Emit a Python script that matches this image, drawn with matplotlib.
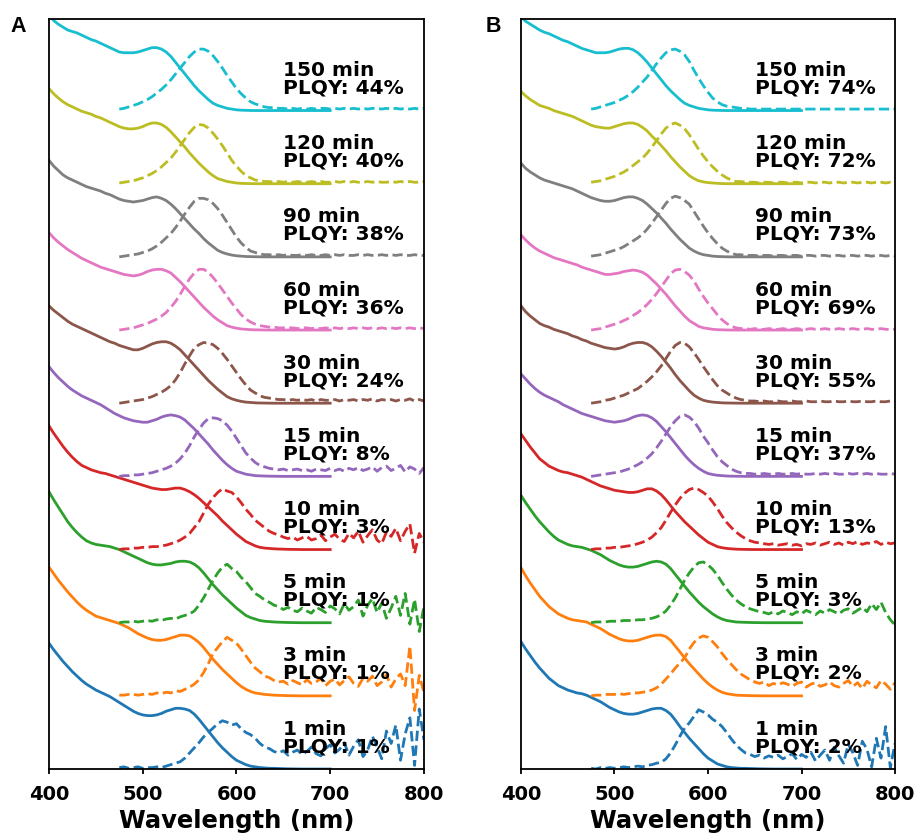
import numpy as np
import matplotlib.pyplot as plt

# wavelength grids (nm)
abs_wl = np.arange(400, 701, 5)
pl_wl = np.arange(475, 801, 5)

times = ['1 min', '3 min', '5 min', '10 min', '15 min',
         '30 min', '60 min', '90 min', '120 min', '150 min']
plqy_a = [1, 1, 1, 3, 8, 24, 36, 38, 40, 44]
plqy_b = [2, 2, 3, 13, 37, 55, 69, 73, 72, 74]

colors = ['#1f77b4', '#ff7f0e', '#2ca02c', '#d62728', '#9467bd',
          '#8c564b', '#e377c2', '#7f7f7f', '#bcbd22', '#17becf']

# ---- panel A: absorption (normalised, 400-700 nm every 5 nm) ----
abs_a1 = [1.72, 1.63, 1.55, 1.47, 1.40, 1.33, 1.27, 1.21, 1.16, 1.12,
          1.08, 1.05, 1.02, 0.99, 0.95, 0.91, 0.87, 0.83, 0.79, 0.76,
          0.74, 0.73, 0.73, 0.74, 0.76, 0.79, 0.81, 0.83, 0.83, 0.82,
          0.80, 0.75, 0.68, 0.60, 0.52, 0.44, 0.36, 0.29, 0.23, 0.17,
          0.12, 0.09, 0.06, 0.04, 0.03, 0.02, 0.015, 0.01, 0.01, 0.007,
          0.005, 0.003, 0.002, 0.001, 0, 0, 0, 0, 0, 0,
          0]
abs_a3 = [1.76, 1.67, 1.58, 1.50, 1.42, 1.35, 1.28, 1.22, 1.17, 1.13,
          1.09, 1.07, 1.05, 1.03, 1.01, 0.99, 0.96, 0.93, 0.89, 0.85,
          0.82, 0.79, 0.77, 0.76, 0.76, 0.77, 0.79, 0.81, 0.83, 0.83,
          0.82, 0.78, 0.73, 0.66, 0.58, 0.50, 0.43, 0.36, 0.30, 0.24,
          0.18, 0.13, 0.09, 0.06, 0.04, 0.03, 0.02, 0.015, 0.01, 0.007,
          0.005, 0.003, 0.002, 0.001, 0, 0, 0, 0, 0, 0,
          0]
abs_a5 = [1.79, 1.68, 1.58, 1.48, 1.38, 1.30, 1.23, 1.17, 1.12, 1.09,
          1.07, 1.06, 1.05, 1.04, 1.02, 1.00, 0.97, 0.94, 0.91, 0.88,
          0.85, 0.82, 0.80, 0.79, 0.79, 0.80, 0.81, 0.83, 0.84, 0.84,
          0.83, 0.80, 0.75, 0.68, 0.60, 0.52, 0.45, 0.38, 0.32, 0.26,
          0.20, 0.15, 0.10, 0.07, 0.05, 0.03, 0.02, 0.015, 0.01, 0.007,
          0.005, 0.003, 0.002, 0.001, 0, 0, 0, 0, 0, 0,
          0]
abs_a10 = [1.69, 1.59, 1.50, 1.41, 1.33, 1.26, 1.20, 1.15, 1.12, 1.09,
           1.07, 1.05, 1.04, 1.02, 1.00, 0.98, 0.96, 0.94, 0.92, 0.90,
           0.88, 0.86, 0.84, 0.83, 0.82, 0.82, 0.83, 0.84, 0.84, 0.82,
           0.79, 0.75, 0.70, 0.64, 0.58, 0.52, 0.46, 0.39, 0.33, 0.27,
           0.21, 0.16, 0.11, 0.08, 0.05, 0.03, 0.02, 0.015, 0.01, 0.007,
           0.005, 0.003, 0.002, 0.001, 0, 0, 0, 0, 0, 0,
           0]
abs_a15 = [1.50, 1.42, 1.35, 1.29, 1.23, 1.18, 1.14, 1.10, 1.07, 1.04,
           1.01, 0.98, 0.94, 0.90, 0.86, 0.83, 0.80, 0.78, 0.76, 0.75,
           0.74, 0.74, 0.76, 0.78, 0.81, 0.83, 0.84, 0.83, 0.81, 0.77,
           0.71, 0.65, 0.58, 0.51, 0.44, 0.36, 0.29, 0.22, 0.16, 0.11,
           0.07, 0.05, 0.03, 0.02, 0.01, 0.007, 0.005, 0.003, 0.002, 0.001,
           0, 0, 0, 0, 0, 0, 0, 0, 0, 0,
           0]
abs_a30 = [1.33, 1.27, 1.22, 1.17, 1.12, 1.08, 1.05, 1.02, 0.99, 0.96,
           0.93, 0.90, 0.87, 0.84, 0.82, 0.79, 0.77, 0.75, 0.73, 0.73,
           0.75, 0.78, 0.81, 0.83, 0.84, 0.84, 0.82, 0.78, 0.73, 0.66,
           0.59, 0.52, 0.45, 0.38, 0.31, 0.25, 0.19, 0.14, 0.09, 0.06,
           0.04, 0.025, 0.015, 0.01, 0.005, 0.003, 0.002, 0.001, 0, 0,
           0, 0, 0, 0, 0, 0, 0, 0, 0, 0,
           0]
abs_a60 = [1.33, 1.26, 1.20, 1.15, 1.10, 1.06, 1.02, 0.98, 0.95, 0.92,
           0.89, 0.86, 0.84, 0.82, 0.80, 0.78, 0.76, 0.75, 0.74, 0.75,
           0.77, 0.80, 0.82, 0.83, 0.83, 0.81, 0.78, 0.72, 0.66, 0.59,
           0.52, 0.45, 0.38, 0.31, 0.25, 0.19, 0.14, 0.10, 0.06, 0.04,
           0.025, 0.015, 0.01, 0.005, 0.003, 0.002, 0.001, 0, 0, 0,
           0, 0, 0, 0, 0, 0, 0, 0, 0, 0,
           0]
abs_a90 = [1.32, 1.24, 1.18, 1.12, 1.08, 1.05, 1.02, 0.99, 0.96, 0.94,
           0.92, 0.90, 0.87, 0.85, 0.82, 0.79, 0.77, 0.76, 0.75, 0.76,
           0.77, 0.79, 0.81, 0.82, 0.80, 0.77, 0.72, 0.66, 0.59, 0.52,
           0.45, 0.38, 0.32, 0.25, 0.19, 0.14, 0.09, 0.06, 0.04, 0.025,
           0.015, 0.01, 0.005, 0.003, 0.002, 0.001, 0, 0, 0, 0,
           0, 0, 0, 0, 0, 0, 0, 0, 0, 0,
           0]
abs_a120 = [1.30, 1.23, 1.17, 1.12, 1.08, 1.05, 1.02, 0.99, 0.97, 0.95,
            0.92, 0.90, 0.87, 0.84, 0.81, 0.78, 0.76, 0.75, 0.75, 0.76,
            0.78, 0.81, 0.83, 0.83, 0.81, 0.77, 0.71, 0.64, 0.57, 0.50,
            0.42, 0.35, 0.28, 0.22, 0.16, 0.11, 0.07, 0.05, 0.03, 0.02,
            0.01, 0.005, 0.003, 0.001, 0, 0, 0, 0, 0, 0,
            0, 0, 0, 0, 0, 0, 0, 0, 0, 0,
            0]
abs_a150 = [1.30, 1.23, 1.18, 1.14, 1.10, 1.08, 1.06, 1.03, 1.00, 0.97,
            0.95, 0.92, 0.89, 0.86, 0.83, 0.80, 0.79, 0.79, 0.79, 0.80,
            0.82, 0.84, 0.86, 0.86, 0.84, 0.80, 0.74, 0.66, 0.58, 0.50,
            0.42, 0.34, 0.27, 0.21, 0.15, 0.10, 0.07, 0.05, 0.03, 0.02,
            0.01, 0.005, 0.003, 0.001, 0, 0, 0, 0, 0, 0,
            0, 0, 0, 0, 0, 0, 0, 0, 0, 0,
            0]

# ---- panel A: PL (normalised, 475-800 nm every 5 nm) ----
pl_a1 = [0.02, 0.03, 0.01, 0.02, 0.03, 0.01, 0.02, 0.02, 0.03, 0.02,
         0.04, 0.06, 0.08, 0.10, 0.15, 0.22, 0.29, 0.36, 0.44, 0.50,
         0.56, 0.62, 0.66, 0.64, 0.60, 0.62, 0.55, 0.50, 0.47, 0.42,
         0.35, 0.30, 0.28, 0.24, 0.22, 0.25, 0.19, 0.23, 0.26, 0.20,
         0.24, 0.30, 0.21, 0.18, 0.28, 0.33, 0.22, 0.27, 0.36, 0.19,
         0.31, 0.40, 0.17, 0.26, 0.45, 0.30, 0.14, 0.52, 0.35, 0.60,
         0.12, 0.48, 0.70, 0.05, 0.82, 0.40]
pl_a3 = [0.01, 0.01, 0.02, 0.02, 0.01, 0.02, 0.03, 0.02, 0.04, 0.03,
         0.05, 0.04, 0.07, 0.06, 0.09, 0.12, 0.16, 0.22, 0.32, 0.44,
         0.58, 0.66, 0.74, 0.80, 0.76, 0.72, 0.64, 0.55, 0.46, 0.38,
         0.33, 0.27, 0.25, 0.21, 0.19, 0.20, 0.16, 0.21, 0.18, 0.15,
         0.22, 0.17, 0.19, 0.24, 0.14, 0.20, 0.23, 0.15, 0.21, 0.26,
         0.17, 0.13, 0.24, 0.20, 0.27, 0.14, 0.19, 0.29, 0.12, 0.23,
         0.30, 0.14, 0.68, -0.20, 0.28, 0.05]
pl_a5 = [0.00, 0.01, 0.01, 0.02, 0.01, 0.02, 0.03, 0.02, 0.04, 0.03,
         0.05, 0.06, 0.05, 0.08, 0.10, 0.12, 0.16, 0.24, 0.34, 0.46,
         0.58, 0.68, 0.76, 0.80, 0.74, 0.70, 0.62, 0.56, 0.48, 0.40,
         0.36, 0.31, 0.28, 0.24, 0.22, 0.18, 0.21, 0.17, 0.15, 0.20,
         0.16, 0.13, 0.21, 0.18, 0.14, 0.23, 0.19, 0.12, 0.26, 0.17,
         0.22, 0.31, 0.09, 0.24, 0.33, 0.14, 0.27, 0.06, 0.20, 0.36,
         0.10, 0.40, -0.02, 0.32, -0.12, 0.22]
pl_a10 = [0.00, 0.01, 0.01, 0.02, 0.02, 0.03, 0.03, 0.04, 0.04, 0.05,
          0.06, 0.08, 0.10, 0.13, 0.17, 0.22, 0.30, 0.38, 0.50, 0.62,
          0.71, 0.78, 0.83, 0.80, 0.78, 0.72, 0.64, 0.55, 0.48, 0.40,
          0.35, 0.30, 0.25, 0.22, 0.20, 0.17, 0.15, 0.17, 0.13, 0.16,
          0.18, 0.13, 0.15, 0.20, 0.12, 0.17, 0.21, 0.14, 0.11, 0.22,
          0.16, 0.25, 0.10, 0.19, 0.27, 0.13, 0.08, 0.24, 0.18, 0.29,
          0.12, 0.25, 0.35, -0.05, 0.22, 0.10]
pl_a15 = [0.00, 0.01, 0.01, 0.02, 0.02, 0.03, 0.04, 0.05, 0.07, 0.09,
          0.11, 0.14, 0.18, 0.24, 0.32, 0.42, 0.54, 0.64, 0.73, 0.79,
          0.80, 0.79, 0.76, 0.70, 0.62, 0.52, 0.42, 0.32, 0.25, 0.19,
          0.15, 0.13, 0.11, 0.10, 0.09, 0.10, 0.08, 0.09, 0.10, 0.08,
          0.09, 0.07, 0.10, 0.09, 0.08, 0.11, 0.08, 0.10, 0.07, 0.11,
          0.09, 0.12, 0.08, 0.10, 0.13, 0.07, 0.12, 0.14, 0.08, 0.11,
          0.15, 0.06, 0.13, 0.10, 0.04, 0.12]
pl_a30 = [0.00, 0.01, 0.02, 0.03, 0.04, 0.05, 0.07, 0.09, 0.12, 0.15,
          0.19, 0.24, 0.32, 0.42, 0.54, 0.65, 0.75, 0.80, 0.83, 0.82,
          0.80, 0.75, 0.68, 0.60, 0.51, 0.42, 0.33, 0.25, 0.18, 0.14,
          0.10, 0.08, 0.07, 0.06, 0.05, 0.05, 0.04, 0.05, 0.04, 0.05,
          0.04, 0.05, 0.03, 0.05, 0.04, 0.04, 0.05, 0.03, 0.05, 0.04,
          0.05, 0.03, 0.05, 0.04, 0.06, 0.03, 0.05, 0.04, 0.05, 0.03,
          0.05, 0.04, 0.06, 0.03, 0.05, 0.03]
pl_a60 = [0.00, 0.01, 0.02, 0.03, 0.05, 0.07, 0.09, 0.12, 0.15, 0.19,
          0.24, 0.31, 0.39, 0.49, 0.60, 0.70, 0.78, 0.83, 0.83, 0.79,
          0.72, 0.64, 0.55, 0.46, 0.37, 0.29, 0.21, 0.15, 0.11, 0.08,
          0.06, 0.05, 0.04, 0.04, 0.03, 0.03, 0.03, 0.03, 0.02, 0.03,
          0.03, 0.02, 0.03, 0.02, 0.03, 0.02, 0.03, 0.02, 0.03, 0.02,
          0.03, 0.02, 0.03, 0.02, 0.03, 0.02, 0.03, 0.02, 0.03, 0.02,
          0.03, 0.02, 0.03, 0.02, 0.03, 0.02]
pl_a90 = [0.00, 0.01, 0.02, 0.03, 0.04, 0.06, 0.08, 0.11, 0.15, 0.20,
          0.26, 0.32, 0.40, 0.49, 0.59, 0.68, 0.76, 0.80, 0.80, 0.78,
          0.73, 0.66, 0.57, 0.47, 0.37, 0.27, 0.19, 0.13, 0.08, 0.06,
          0.04, 0.03, 0.03, 0.02, 0.03, 0.02, 0.03, 0.02, 0.02, 0.03,
          0.02, 0.03, 0.02, 0.02, 0.03, 0.02, 0.03, 0.02, 0.03, 0.02,
          0.02, 0.03, 0.02, 0.03, 0.02, 0.02, 0.03, 0.02, 0.03, 0.02,
          0.03, 0.02, 0.02, 0.03, 0.02, 0.02]
pl_a120 = [0.01, 0.02, 0.03, 0.04, 0.06, 0.08, 0.11, 0.14, 0.18, 0.23,
           0.29, 0.35, 0.43, 0.52, 0.61, 0.70, 0.77, 0.81, 0.80, 0.76,
           0.69, 0.61, 0.52, 0.42, 0.32, 0.24, 0.17, 0.11, 0.08, 0.05,
           0.04, 0.03, 0.03, 0.02, 0.03, 0.02, 0.03, 0.02, 0.03, 0.02,
           0.02, 0.03, 0.02, 0.03, 0.02, 0.02, 0.03, 0.02, 0.03, 0.02,
           0.03, 0.02, 0.02, 0.03, 0.02, 0.03, 0.02, 0.02, 0.03, 0.02,
           0.03, 0.02, 0.03, 0.02, 0.02, 0.03]
pl_a150 = [0.02, 0.03, 0.05, 0.07, 0.09, 0.12, 0.15, 0.19, 0.24, 0.29,
           0.35, 0.42, 0.50, 0.58, 0.66, 0.74, 0.80, 0.84, 0.84, 0.81,
           0.75, 0.67, 0.58, 0.48, 0.39, 0.30, 0.23, 0.17, 0.12, 0.09,
           0.07, 0.05, 0.04, 0.04, 0.03, 0.03, 0.02, 0.03, 0.02, 0.03,
           0.02, 0.03, 0.02, 0.03, 0.03, 0.02, 0.03, 0.02, 0.03, 0.02,
           0.03, 0.02, 0.03, 0.02, 0.03, 0.03, 0.02, 0.03, 0.02, 0.03,
           0.02, 0.03, 0.02, 0.03, 0.02, 0.03]

# ---- panel B: absorption ----
abs_b1 = [1.74, 1.64, 1.55, 1.46, 1.38, 1.31, 1.24, 1.19, 1.14, 1.11,
          1.08, 1.06, 1.04, 1.03, 1.01, 0.98, 0.95, 0.92, 0.88, 0.84,
          0.81, 0.78, 0.76, 0.75, 0.75, 0.76, 0.78, 0.80, 0.82, 0.83,
          0.83, 0.80, 0.75, 0.67, 0.58, 0.50, 0.42, 0.35, 0.28, 0.21,
          0.15, 0.11, 0.07, 0.05, 0.03, 0.02, 0.015, 0.01, 0.01, 0.007,
          0.005, 0.003, 0.002, 0.001, 0, 0, 0, 0, 0, 0,
          0]
abs_b3 = [1.75, 1.64, 1.54, 1.45, 1.36, 1.29, 1.22, 1.17, 1.12, 1.09,
          1.06, 1.04, 1.03, 1.02, 1.01, 0.98, 0.95, 0.92, 0.88, 0.84,
          0.81, 0.78, 0.76, 0.75, 0.75, 0.76, 0.78, 0.80, 0.82, 0.83,
          0.83, 0.81, 0.76, 0.68, 0.60, 0.52, 0.44, 0.37, 0.30, 0.23,
          0.17, 0.12, 0.08, 0.05, 0.03, 0.02, 0.01, 0.007, 0.005, 0.003,
          0.002, 0.001, 0, 0, 0, 0, 0, 0, 0, 0,
          0]
abs_b5 = [1.74, 1.64, 1.55, 1.46, 1.38, 1.31, 1.24, 1.18, 1.13, 1.10,
          1.07, 1.05, 1.04, 1.03, 1.01, 0.99, 0.96, 0.93, 0.89, 0.85,
          0.82, 0.79, 0.77, 0.76, 0.76, 0.77, 0.79, 0.81, 0.83, 0.84,
          0.83, 0.80, 0.74, 0.66, 0.58, 0.50, 0.42, 0.35, 0.28, 0.22,
          0.17, 0.12, 0.08, 0.05, 0.03, 0.02, 0.01, 0.007, 0.005, 0.003,
          0.002, 0.001, 0, 0, 0, 0, 0, 0, 0, 0,
          0]
abs_b10 = [1.58, 1.49, 1.40, 1.32, 1.24, 1.19, 1.14, 1.11, 1.08, 1.06,
           1.05, 1.03, 1.01, 0.99, 0.96, 0.93, 0.90, 0.87, 0.85, 0.83,
           0.81, 0.80, 0.79, 0.78, 0.78, 0.79, 0.81, 0.83, 0.83, 0.80,
           0.75, 0.68, 0.60, 0.52, 0.45, 0.38, 0.32, 0.26, 0.20, 0.15,
           0.10, 0.07, 0.04, 0.025, 0.015, 0.01, 0.005, 0.003, 0.002, 0.001,
           0, 0, 0, 0, 0, 0, 0, 0, 0, 0,
           0]
abs_b15 = [1.40, 1.33, 1.26, 1.20, 1.15, 1.11, 1.08, 1.05, 1.02, 0.98,
           0.95, 0.92, 0.89, 0.86, 0.84, 0.82, 0.80, 0.78, 0.76, 0.75,
           0.74, 0.75, 0.76, 0.78, 0.81, 0.83, 0.84, 0.83, 0.80, 0.75,
           0.68, 0.61, 0.53, 0.45, 0.37, 0.29, 0.22, 0.16, 0.11, 0.07,
           0.04, 0.025, 0.015, 0.01, 0.005, 0.003, 0.002, 0.001, 0, 0,
           0, 0, 0, 0, 0, 0, 0, 0, 0, 0,
           0]
abs_b30 = [1.33, 1.25, 1.19, 1.14, 1.09, 1.06, 1.04, 1.01, 0.99, 0.97,
           0.95, 0.92, 0.90, 0.87, 0.85, 0.82, 0.80, 0.78, 0.76, 0.75,
           0.74, 0.75, 0.77, 0.80, 0.82, 0.83, 0.83, 0.81, 0.77, 0.71,
           0.64, 0.56, 0.48, 0.39, 0.31, 0.24, 0.17, 0.11, 0.07, 0.04,
           0.025, 0.015, 0.01, 0.005, 0.003, 0.002, 0.001, 0, 0, 0,
           0, 0, 0, 0, 0, 0, 0, 0, 0, 0,
           0]
abs_b60 = [1.30, 1.23, 1.17, 1.12, 1.08, 1.05, 1.02, 0.99, 0.97, 0.95,
           0.93, 0.91, 0.89, 0.86, 0.84, 0.82, 0.80, 0.78, 0.76, 0.76,
           0.77, 0.78, 0.80, 0.81, 0.82, 0.81, 0.79, 0.75, 0.69, 0.63,
           0.56, 0.49, 0.41, 0.33, 0.26, 0.19, 0.13, 0.09, 0.05, 0.03,
           0.02, 0.01, 0.005, 0.003, 0.001, 0, 0, 0, 0, 0,
           0, 0, 0, 0, 0, 0, 0, 0, 0, 0,
           0]
abs_b90 = [1.28, 1.21, 1.16, 1.12, 1.08, 1.05, 1.03, 1.01, 0.99, 0.97,
           0.95, 0.93, 0.90, 0.87, 0.84, 0.81, 0.79, 0.77, 0.76, 0.76,
           0.77, 0.79, 0.81, 0.82, 0.82, 0.80, 0.77, 0.72, 0.66, 0.60,
           0.53, 0.46, 0.38, 0.31, 0.24, 0.18, 0.12, 0.08, 0.05, 0.03,
           0.02, 0.01, 0.005, 0.003, 0.001, 0, 0, 0, 0, 0,
           0, 0, 0, 0, 0, 0, 0, 0, 0, 0,
           0]
abs_b120 = [1.26, 1.20, 1.15, 1.11, 1.07, 1.05, 1.03, 1.00, 0.98, 0.96,
            0.94, 0.92, 0.89, 0.86, 0.83, 0.80, 0.78, 0.77, 0.76, 0.76,
            0.78, 0.80, 0.82, 0.83, 0.83, 0.81, 0.77, 0.72, 0.65, 0.59,
            0.52, 0.45, 0.37, 0.30, 0.23, 0.17, 0.11, 0.07, 0.04, 0.025,
            0.015, 0.01, 0.005, 0.002, 0, 0, 0, 0, 0, 0,
            0, 0, 0, 0, 0, 0, 0, 0, 0, 0,
            0]
abs_b150 = [1.28, 1.22, 1.18, 1.14, 1.10, 1.07, 1.05, 1.02, 0.99, 0.96,
            0.94, 0.91, 0.88, 0.85, 0.83, 0.81, 0.79, 0.79, 0.79, 0.80,
            0.82, 0.84, 0.85, 0.85, 0.83, 0.79, 0.73, 0.66, 0.58, 0.50,
            0.42, 0.34, 0.27, 0.21, 0.15, 0.10, 0.07, 0.05, 0.03, 0.02,
            0.01, 0.005, 0.003, 0.001, 0, 0, 0, 0, 0, 0,
            0, 0, 0, 0, 0, 0, 0, 0, 0, 0,
            0]

# ---- panel B: PL ----
pl_b1 = [0.01, 0.00, 0.02, 0.01, 0.02, 0.01, 0.02, 0.03, 0.02, 0.03,
         0.04, 0.03, 0.05, 0.06, 0.08, 0.09, 0.14, 0.22, 0.33, 0.45,
         0.56, 0.63, 0.72, 0.81, 0.78, 0.74, 0.68, 0.64, 0.58, 0.50,
         0.41, 0.33, 0.27, 0.22, 0.20, 0.17, 0.19, 0.15, 0.18, 0.16,
         0.19, 0.14, 0.17, 0.21, 0.13, 0.20, 0.16, 0.23, 0.11, 0.19,
         0.26, 0.12, 0.30, 0.18, 0.08, 0.34, 0.22, 0.05, 0.38, 0.27,
         0.03, 0.42, 0.15, 0.58, 0.02, 0.35]
pl_b3 = [0.00, 0.01, 0.01, 0.02, 0.02, 0.02, 0.03, 0.02, 0.03, 0.04,
         0.04, 0.05, 0.06, 0.08, 0.11, 0.16, 0.23, 0.30, 0.38, 0.45,
         0.52, 0.64, 0.73, 0.79, 0.82, 0.80, 0.74, 0.67, 0.58, 0.50,
         0.43, 0.36, 0.30, 0.26, 0.22, 0.19, 0.17, 0.19, 0.14, 0.17,
         0.15, 0.18, 0.16, 0.13, 0.17, 0.19, 0.12, 0.16, 0.18, 0.13,
         0.15, 0.19, 0.14, 0.12, 0.17, 0.21, 0.13, 0.18, 0.10, 0.20,
         0.15, 0.11, 0.21, 0.16, 0.09, 0.18]
pl_b5 = [0.00, 0.01, 0.01, 0.01, 0.02, 0.02, 0.02, 0.03, 0.03, 0.03,
         0.04, 0.04, 0.05, 0.06, 0.08, 0.11, 0.16, 0.24, 0.34, 0.46,
         0.58, 0.68, 0.76, 0.82, 0.83, 0.79, 0.73, 0.65, 0.55, 0.46,
         0.38, 0.31, 0.26, 0.22, 0.19, 0.17, 0.15, 0.14, 0.12, 0.15,
         0.12, 0.16, 0.14, 0.11, 0.15, 0.12, 0.17, 0.14, 0.11, 0.16,
         0.13, 0.18, 0.15, 0.12, 0.17, 0.19, 0.13, 0.17, 0.21, 0.15,
         0.26, 0.18, 0.28, 0.14, 0.04, -0.03]
pl_b10 = [0.00, 0.01, 0.01, 0.02, 0.02, 0.03, 0.03, 0.04, 0.05, 0.06,
          0.08, 0.10, 0.13, 0.17, 0.23, 0.30, 0.40, 0.51, 0.61, 0.70,
          0.77, 0.82, 0.84, 0.82, 0.78, 0.73, 0.65, 0.56, 0.46, 0.37,
          0.30, 0.24, 0.19, 0.15, 0.12, 0.10, 0.09, 0.08, 0.07, 0.08,
          0.06, 0.07, 0.08, 0.06, 0.07, 0.05, 0.08, 0.07, 0.09, 0.06,
          0.08, 0.10, 0.07, 0.09, 0.06, 0.10, 0.08, 0.11, 0.07, 0.09,
          0.08, 0.11, 0.07, 0.10, 0.08, 0.09]
pl_b15 = [0.00, 0.01, 0.02, 0.03, 0.04, 0.05, 0.06, 0.08, 0.10, 0.13,
          0.16, 0.20, 0.25, 0.31, 0.39, 0.48, 0.58, 0.68, 0.76, 0.82,
          0.84, 0.81, 0.75, 0.66, 0.55, 0.46, 0.36, 0.27, 0.20, 0.15,
          0.10, 0.07, 0.05, 0.04, 0.04, 0.03, 0.03, 0.04, 0.03, 0.03,
          0.04, 0.03, 0.03, 0.04, 0.03, 0.04, 0.03, 0.03, 0.04, 0.03,
          0.04, 0.03, 0.04, 0.03, 0.03, 0.04, 0.03, 0.04, 0.03, 0.04,
          0.03, 0.04, 0.03, 0.03, 0.04, 0.03]
pl_b30 = [0.00, 0.01, 0.02, 0.04, 0.05, 0.07, 0.09, 0.11, 0.14, 0.17,
          0.20, 0.25, 0.30, 0.36, 0.43, 0.51, 0.61, 0.71, 0.79, 0.83,
          0.82, 0.77, 0.69, 0.60, 0.50, 0.41, 0.32, 0.24, 0.18, 0.14,
          0.10, 0.07, 0.05, 0.04, 0.03, 0.03, 0.02, 0.03, 0.02, 0.02,
          0.03, 0.02, 0.02, 0.03, 0.02, 0.02, 0.03, 0.02, 0.02, 0.03,
          0.02, 0.02, 0.03, 0.02, 0.02, 0.03, 0.02, 0.02, 0.03, 0.02,
          0.02, 0.03, 0.02, 0.02, 0.03, 0.02]
pl_b60 = [0.00, 0.01, 0.02, 0.04, 0.06, 0.08, 0.10, 0.13, 0.16, 0.20,
          0.24, 0.29, 0.35, 0.42, 0.50, 0.59, 0.68, 0.77, 0.82, 0.83,
          0.80, 0.75, 0.67, 0.56, 0.46, 0.37, 0.29, 0.21, 0.14, 0.09,
          0.05, 0.03, 0.02, 0.02, 0.01, 0.02, 0.01, 0.01, 0.02, 0.01,
          0.01, 0.02, 0.01, 0.01, 0.02, 0.01, 0.01, 0.02, 0.01, 0.01,
          0.02, 0.01, 0.01, 0.02, 0.01, 0.01, 0.02, 0.01, 0.01, 0.02,
          0.01, 0.01, 0.02, 0.01, 0.01, 0.01]
pl_b90 = [0.01, 0.02, 0.03, 0.05, 0.07, 0.09, 0.11, 0.14, 0.18, 0.22,
          0.26, 0.31, 0.38, 0.46, 0.55, 0.64, 0.73, 0.80, 0.83, 0.81,
          0.77, 0.72, 0.62, 0.52, 0.42, 0.33, 0.25, 0.18, 0.12, 0.08,
          0.05, 0.03, 0.03, 0.02, 0.02, 0.02, 0.01, 0.02, 0.02, 0.01,
          0.02, 0.02, 0.01, 0.02, 0.02, 0.01, 0.02, 0.02, 0.01, 0.02,
          0.02, 0.01, 0.02, 0.02, 0.01, 0.02, 0.02, 0.01, 0.02, 0.02,
          0.01, 0.02, 0.02, 0.01, 0.02, 0.01]
pl_b120 = [0.02, 0.03, 0.04, 0.06, 0.08, 0.10, 0.13, 0.16, 0.20, 0.25,
           0.30, 0.35, 0.42, 0.50, 0.59, 0.68, 0.76, 0.81, 0.83, 0.80,
           0.75, 0.67, 0.57, 0.47, 0.38, 0.30, 0.23, 0.17, 0.12, 0.08,
           0.05, 0.03, 0.03, 0.02, 0.02, 0.02, 0.01, 0.02, 0.02, 0.01,
           0.02, 0.02, 0.01, 0.02, 0.02, 0.01, 0.02, 0.02, 0.01, 0.02,
           0.02, 0.01, 0.02, 0.02, 0.01, 0.02, 0.02, 0.01, 0.02, 0.02,
           0.01, 0.02, 0.02, 0.01, 0.02, 0.01]
pl_b150 = [0.02, 0.03, 0.05, 0.07, 0.09, 0.11, 0.14, 0.17, 0.21, 0.26,
           0.32, 0.39, 0.46, 0.55, 0.64, 0.72, 0.79, 0.83, 0.84, 0.81,
           0.76, 0.67, 0.55, 0.44, 0.34, 0.25, 0.17, 0.12, 0.08, 0.06,
           0.05, 0.04, 0.03, 0.03, 0.02, 0.02, 0.02, 0.02, 0.02, 0.02,
           0.02, 0.02, 0.02, 0.02, 0.02, 0.02, 0.02, 0.02, 0.02, 0.02,
           0.02, 0.02, 0.02, 0.02, 0.02, 0.02, 0.02, 0.02, 0.02, 0.02,
           0.02, 0.02, 0.02, 0.02, 0.02, 0.02]

abs_a = [abs_a1, abs_a3, abs_a5, abs_a10, abs_a15, abs_a30, abs_a60, abs_a90, abs_a120, abs_a150]
pl_a = [pl_a1, pl_a3, pl_a5, pl_a10, pl_a15, pl_a30, pl_a60, pl_a90, pl_a120, pl_a150]
abs_b = [abs_b1, abs_b3, abs_b5, abs_b10, abs_b15, abs_b30, abs_b60, abs_b90, abs_b120, abs_b150]
pl_b = [pl_b1, pl_b3, pl_b5, pl_b10, pl_b15, pl_b30, pl_b60, pl_b90, pl_b120, pl_b150]


def draw_panel(ax, abs_list, pl_list, plqy):
    # stack each time point one unit above the previous one
    for i in range(len(times)):
        ax.plot(abs_wl, np.array(abs_list[i]) + i, color=colors[i], lw=2)
        ax.plot(pl_wl, np.array(pl_list[i]) + i, color=colors[i], lw=2, ls='--')
        ax.text(650, i + 0.19, f'{times[i]}\nPLQY: {plqy[i]}%',
                fontsize=14.5, fontweight='bold', ha='left', va='bottom',
                linespacing=0.9)
    ax.set_xlim(400, 800)
    ax.set_ylim(0, 10.25)
    ax.set_yticks([])
    ax.set_xticks([400, 500, 600, 700, 800])
    ax.tick_params(axis='x', labelsize=14, pad=7, width=1.3)
    for lab in ax.get_xticklabels():
        lab.set_fontweight('bold')
    for sp in ax.spines.values():
        sp.set_linewidth(1.3)
    ax.set_xlabel('Wavelength (nm)', fontsize=17.5, fontweight='bold', labelpad=4)


fig = plt.figure(figsize=(9.19, 8.37), dpi=100)
ax_a = fig.add_axes([0.0533, 0.0800, 0.408, 0.896])
ax_b = fig.add_axes([0.5669, 0.0800, 0.407, 0.896])

draw_panel(ax_a, abs_a, pl_a, plqy_a)
draw_panel(ax_b, abs_b, pl_b, plqy_b)

fig.text(10 / 919, 1 - 16 / 837, 'A', fontsize=15.5, fontweight='bold',
         family='Liberation Sans', va='top', ha='left')
fig.text(486 / 919, 1 - 16 / 837, 'B', fontsize=15.5, fontweight='bold',
         family='Liberation Sans', va='top', ha='left')

fig.savefig('out.png', dpi=100)
